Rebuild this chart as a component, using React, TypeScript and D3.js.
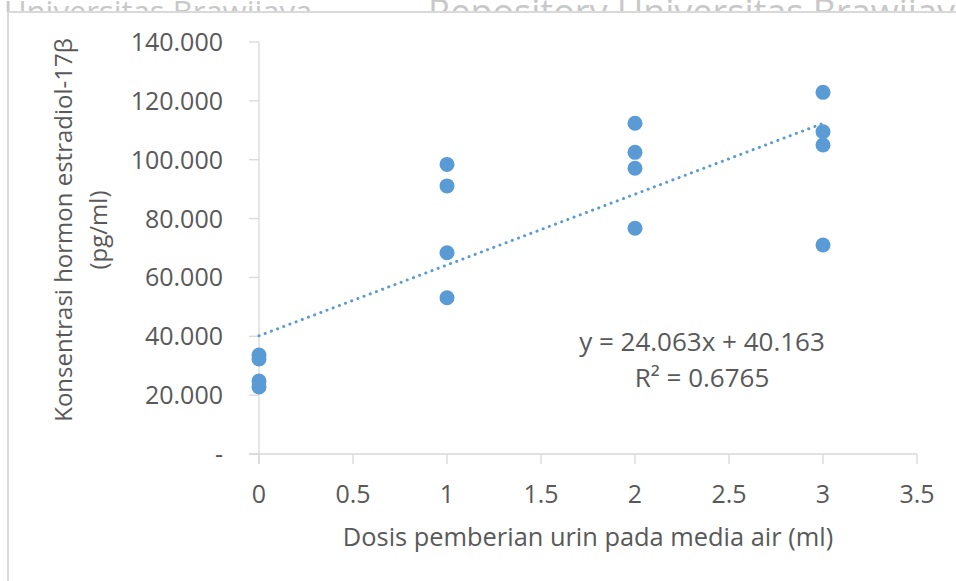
import React from "react";
import * as d3 from "d3";

// Dose groups (ml of urine in the water) and measured estradiol-17β (pg/ml)
const doses: number[] = [0, 0, 0, 0, 1, 1, 1, 1, 2, 2, 2, 2, 3, 3, 3, 3];
const estradiol: number[] = [
  33.6, 32.3, 24.8, 22.8,
  98.4, 91.1, 68.4, 53.1,
  112.4, 102.5, 97.1, 76.7,
  122.9, 109.5, 105.0, 71.0,
];

// Linear trend reported on the chart
const trendSlope = 24.063;
const trendIntercept = 40.163;
const rSquared = "0.6765";

const xTicks: number[] = [0, 0.5, 1, 1.5, 2, 2.5, 3, 3.5];
const xTickLabels: string[] = ["0", "0.5", "1", "1.5", "2", "2.5", "3", "3.5"];
const yTicks: number[] = [0, 20, 40, 60, 80, 100, 120, 140];
const yTickLabels: string[] = ["-", "20.000", "40.000", "60.000", "80.000", "100.000", "120.000", "140.000"];

const xTitle = "Dosis pemberian urin pada media air (ml)";
const yTitleLines: string[] = ["Konsentrasi hormon estradiol-17β", "(pg/ml)"];
const watermarkParts: string[] = ["Universitas Brawijaya", "Repository Universitas Brawijaya"];

const W = 956;
const H = 581;
const FONT = "'Open Sans', sans-serif";
const TEXT = "#595959";
const AXIS = "#d9d9d9";
const BLUE = "#5b9bd5";

export default function App() {
  const x = d3.scaleLinear().domain([0, 3.5]).range([259, 917]);
  const y = d3.scaleLinear().domain([0, 140]).range([454, 42]);

  const trend = d3
    .line<number>()
    .x((d) => x(d))
    .y((d) => y(trendSlope * d + trendIntercept));

  return (
    <svg
      width={W}
      height={H}
      viewBox={`0 0 ${W} ${H}`}
      style={{ position: "absolute", left: 0, top: 0, display: "block", background: "#fff" }}
      fontFamily={FONT}
    >
      <defs>
        <clipPath id="wm-clip">
          <rect x={0} y={0} width={W} height={12} />
        </clipPath>
      </defs>

      {/* page watermark above the chart frame */}
      <g clipPath="url(#wm-clip)" fill="#c8c8c8">
        <text x={4} y={23} fontSize={31}>
          {watermarkParts[0]}
        </text>
        <text x={428} y={25} fontSize={36}>
          {watermarkParts[1]}
        </text>
      </g>
      <line x1={8} y1={12} x2={W} y2={12} stroke={AXIS} strokeWidth={2} />
      <line x1={8} y1={12} x2={8} y2={H} stroke={AXIS} strokeWidth={2} />

      {/* y axis */}
      <line x1={x(0)} y1={y(140)} x2={x(0)} y2={y(0) + 10} stroke={AXIS} strokeWidth={1.3} />
      {yTicks.map((t, i) => (
        <g key={`yt${i}`}>
          <line x1={x(0) - 10} y1={y(t)} x2={x(0)} y2={y(t)} stroke={AXIS} strokeWidth={1.3} />
          <text
            x={223}
            y={y(t)}
            dy="0.36em"
            textAnchor="end"
            fontSize={25}
            fill={TEXT}
          >
            {yTickLabels[i]}
          </text>
        </g>
      ))}

      {/* x axis */}
      <line x1={x(0) - 10} y1={y(0)} x2={x(3.5)} y2={y(0)} stroke={AXIS} strokeWidth={1.3} />
      {xTicks.map((t, i) => (
        <g key={`xt${i}`}>
          <line x1={x(t)} y1={y(0)} x2={x(t)} y2={y(0) + 10} stroke={AXIS} strokeWidth={1.3} />
          <text x={x(t)} y={503} textAnchor="middle" fontSize={25} fill={TEXT}>
            {xTickLabels[i]}
          </text>
        </g>
      ))}

      {/* axis titles */}
      <text x={588} y={546} textAnchor="middle" fontSize={25.4} fill={TEXT}>
        {xTitle}
      </text>
      <g transform="translate(0,230) rotate(-90)">
        {yTitleLines.map((s, i) => (
          <text key={s} x={0} y={72 + i * 35} textAnchor="middle" fontSize={24} fill={TEXT}>
            {s}
          </text>
        ))}
      </g>

      {/* trend line */}
      <path
        d={trend([0, 3]) || ""}
        fill="none"
        stroke={BLUE}
        strokeWidth={3}
        strokeLinecap="round"
        strokeDasharray="0.1 6.5"
      />

      {/* observations */}
      {doses.map((d, i) => (
        <circle key={`p${i}`} cx={x(d)} cy={y(estradiol[i])} r={7.5} fill={BLUE} />
      ))}

      {/* regression label */}
      <text x={702} y={351} textAnchor="middle" fontSize={26} fill={TEXT}>
        {`y = ${trendSlope}x + ${trendIntercept}`}
      </text>
      <text x={702} y={387} textAnchor="middle" fontSize={26} fill={TEXT}>
        {`R² = ${rSquared}`}
      </text>
    </svg>
  );
}
